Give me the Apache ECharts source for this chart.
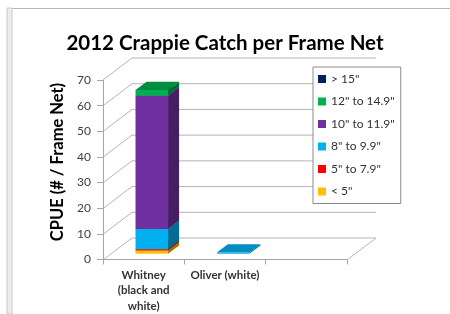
<!DOCTYPE html>
<html>
<head>
<meta charset="utf-8">
<script src="https://cdn.jsdelivr.net/npm/echarts@6/dist/echarts.min.js"></script>
<style>
html, body { margin: 0; padding: 0; background: #fff; }
#chart { width: 450px; height: 314px; }
</style>
</head>
<body>
<div id="chart"></div>
<script>
var categories = ['Whitney\n(black and\nwhite)', 'Oliver (white)', '']
var yTicks = [0, 10, 20, 30, 40, 50, 60, 70]
// size classes, bottom of stack first
var sizeNames = ['< 5"', '5" to 7.9"', '8" to 9.9"', '10" to 11.9"', '12" to 14.9"', '> 15"']
var under5 = [1.3, 0, 0]
var from5 = [0.5, 0, 0]
var from8 = [7.9, 0.5, 0]
var from10 = [51.8, 0, 0]
var from12 = [2.2, 0, 0]
var over15 = [0, 0, 0]
var sizeData = [under5, from5, from8, from10, from12, over15]
var colors = ['#ffc000', '#ff0000', '#00b0f0', '#7030a0', '#00b050', '#002060']

// fake 3d: oblique offset of the back wall, in px
var WALL_DX = 29, WALL_DY = -22
var BAR_D0 = 0.28, BAR_D1 = 0.66, BAR_HALF = 0.2
var font = 'Lato, "Open Sans", sans-serif'

function shade(hex, k) {
    var n = parseInt(hex.slice(1), 16)
    var r = Math.round(((n >> 16) & 255) * k)
    var g = Math.round(((n >> 8) & 255) * k)
    var b = Math.round((n & 255) * k)
    return 'rgb(' + r + ',' + g + ',' + b + ')'
}

function gridItem(params, api) {
    var v = api.value(1)
    var p = api.coord([0, v]), q = api.coord([3, v])
    var style = { stroke: '#b4b4b4', lineWidth: 1, fill: null }
    var kids = [{
        type: 'polyline',
        shape: { points: [[p[0], p[1]], [p[0] + WALL_DX, p[1] + WALL_DY], [q[0] + WALL_DX, q[1] + WALL_DY]] },
        style: style
    }]
    if (v === 0) {
        kids.push({
            type: 'line',
            shape: { x1: q[0], y1: q[1], x2: q[0] + WALL_DX, y2: q[1] + WALL_DY },
            style: style
        })
    }
    return { type: 'group', children: kids }
}

function barItem(params, api) {
    var cat = api.value(0), lo = api.value(1), hi = api.value(2)
    if (hi - lo <= 0) return null
    var a = api.coord([cat + 0.5 - BAR_HALF, lo])
    var b = api.coord([cat + 0.5 + BAR_HALF, hi])
    var ox = BAR_D0 * WALL_DX, oy = BAR_D0 * WALL_DY
    var dx = (BAR_D1 - BAR_D0) * WALL_DX, dy = (BAR_D1 - BAR_D0) * WALL_DY
    var x0 = a[0] + ox, x1 = b[0] + ox, yb = a[1] + oy, yt = b[1] + oy
    var c = colors[params.seriesIndex - 1]
    return {
        type: 'group',
        children: [
            { type: 'polygon', shape: { points: [[x1, yb], [x1 + dx, yb + dy], [x1 + dx, yt + dy], [x1, yt]] }, style: { fill: shade(c, 0.62) } },
            { type: 'polygon', shape: { points: [[x0, yt], [x1, yt], [x1 + dx, yt + dy], [x0 + dx, yt + dy]] }, style: { fill: shade(c, 0.8) } },
            { type: 'rect', shape: { x: x0, y: yt, width: x1 - x0, height: yb - yt }, style: { fill: c } }
        ]
    }
}

var series = [{
    type: 'custom',
    xAxisIndex: 1,
    yAxisIndex: 1,
    silent: true,
    renderItem: gridItem,
    data: yTicks.map(function (v) { return [0, v] })
}]
var base = [0, 0, 0]
for (var s = 0; s < sizeNames.length; s++) {
    var d = []
    for (var i = 0; i < categories.length; i++) {
        d.push([i, base[i], base[i] + sizeData[s][i]])
        base[i] += sizeData[s][i]
    }
    series.push({
        name: sizeNames[s],
        type: 'custom',
        xAxisIndex: 1,
        yAxisIndex: 1,
        itemStyle: { color: colors[s] },
        renderItem: barItem,
        encode: { x: 0, y: [1, 2] },
        data: d
    })
}

var chart = echarts.init(document.getElementById('chart'))
chart.setOption({
    animation: false,
    title: {
        text: '2012 Crappie Catch per Frame Net',
        left: 'center',
        top: 28,
        textStyle: { fontFamily: font, fontSize: 20.5, fontWeight: 'bold', color: '#000' }
    },
    legend: {
        orient: 'vertical',
        left: 313,
        top: 67,
        icon: 'rect',
        itemWidth: 8,
        itemHeight: 8,
        itemGap: 9.5,
        padding: [5.5, 6, 5.5, 5],
        borderColor: '#8c8c8c',
        borderWidth: 1,
        backgroundColor: '#fff',
        data: sizeNames.slice().reverse(),
        textStyle: { fontFamily: font, fontSize: 12, lineHeight: 13, color: '#333' }
    },
    grid: [
        { left: 103, top: 80, width: 244, height: 180 },
        { left: 103, top: 80, width: 244, height: 180 }
    ],
    xAxis: [{
        type: 'category',
        gridIndex: 0,
        data: categories,
        axisLine: { lineStyle: { color: '#a6a6a6' } },
        axisTick: { show: true, length: 5, lineStyle: { color: '#a6a6a6' } },
        axisLabel: { interval: 0, margin: 8, fontFamily: font, fontSize: 11.5, fontWeight: 'bold', lineHeight: 15.5, color: '#333' }
    }, {
        type: 'value',
        gridIndex: 1,
        min: 0,
        max: 3,
        show: false
    }],
    yAxis: [{
        type: 'value',
        gridIndex: 0,
        min: 0,
        max: 70,
        interval: 10,
        axisLine: { show: true, lineStyle: { color: '#a6a6a6' } },
        axisTick: { show: true, length: 6, lineStyle: { color: '#a6a6a6' } },
        splitLine: { show: false },
        axisLabel: { margin: 12, fontFamily: font, fontSize: 12, color: '#404040' }
    }, {
        type: 'value',
        gridIndex: 1,
        min: 0,
        max: 70,
        show: false
    }],
    graphic: [
        { type: 'line', shape: { x1: 12, y1: 8.5, x2: 450, y2: 8.5 }, style: { stroke: '#b8b8b8', lineWidth: 1 } },
        { type: 'rect', shape: { x: 7, y: 8, width: 5, height: 306 }, style: { fill: '#ececec', stroke: '#c8c8c8', lineWidth: 1 } },
        {
            type: 'text',
            x: 58,
            y: 162,
            rotation: Math.PI / 2,
            style: {
                text: 'CPUE (# / Frame Net)',
                fontFamily: font,
                fontSize: 16.5,
                fontWeight: 'bold',
                fill: '#000',
                align: 'center',
                verticalAlign: 'middle'
            }
        }
    ],
    series: series
})
</script>
</body>
</html>
